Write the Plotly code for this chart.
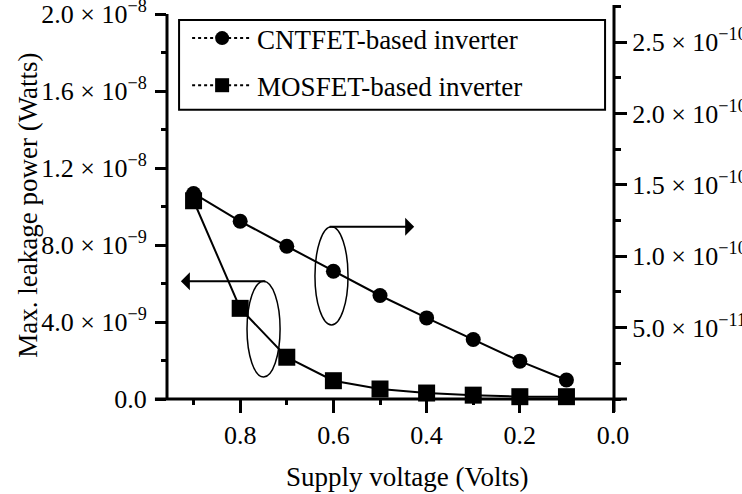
import plotly.graph_objects as go

# ---- data ----
voltage = [0.9, 0.8, 0.7, 0.6, 0.5, 0.4, 0.3, 0.2, 0.1]
cntfet_power = [1.44e-10, 1.245e-10, 1.07e-10, 0.895e-10, 0.725e-10, 0.568e-10, 0.417e-10, 0.265e-10, 0.133e-10]
mosfet_power = [10.3e-9, 4.71e-9, 2.17e-9, 0.95e-9, 0.52e-9, 0.31e-9, 0.2e-9, 0.12e-9, 0.12e-9]

x_ticks = [0.8, 0.6, 0.4, 0.2, 0.0]
x_ticktext = ["0.8", "0.6", "0.4", "0.2", "0.0"]
yl_ticks = [0, 4e-9, 8e-9, 1.2e-8, 1.6e-8, 2.0e-8]
yl_ticktext = ["0.0", "4.0 × 10<sup>−9</sup>", "8.0 × 10<sup>−9</sup>", "1.2 × 10<sup>−8</sup>",
               "1.6 × 10<sup>−8</sup>", "2.0 × 10<sup>−8</sup>"]
yr_ticks = [5e-11, 1.0e-10, 1.5e-10, 2.0e-10, 2.5e-10]
yr_ticktext = ["5.0 × 10<sup>−11</sup>", "1.0 × 10<sup>−10</sup>", "1.5 × 10<sup>−10</sup>",
               "2.0 × 10<sup>−10</sup>", "2.5 × 10<sup>−10</sup>"]

labels = ["CNTFET-based inverter", "MOSFET-based inverter"]

FONT = "Liberation Serif"
BLACK = "black"

fig = go.Figure()

fig.add_trace(go.Scatter(x=voltage, y=cntfet_power, yaxis="y2", mode="lines+markers",
                         line=dict(color=BLACK, width=2), cliponaxis=False,
                         marker=dict(symbol="circle", size=15, color=BLACK),
                         showlegend=False))
fig.add_trace(go.Scatter(x=voltage, y=mosfet_power, yaxis="y", mode="lines+markers",
                         line=dict(color=BLACK, width=2), cliponaxis=False,
                         marker=dict(symbol="square", size=17, color=BLACK),
                         showlegend=False))
# legend entries (dotted style as in the legend)
fig.add_trace(go.Scatter(x=[None], y=[None], mode="lines+markers", name=labels[0], legendgroup="a",
                         line=dict(color=BLACK, width=2, dash="dot"),
                         marker=dict(symbol="circle", size=14, color=BLACK)))
fig.add_trace(go.Scatter(x=[None], y=[None], mode="lines+markers", name=labels[1], legendgroup="b",
                         line=dict(color=BLACK, width=2, dash="dot"),
                         marker=dict(symbol="square", size=14, color=BLACK)))

tickfont = dict(family=FONT, size=26, color=BLACK)

fig.update_layout(
    template="none",
    width=742, height=494,
    margin=dict(l=167, r=128, t=5, b=95),
    paper_bgcolor="white", plot_bgcolor="white",
    font=dict(family=FONT, color=BLACK),
    xaxis=dict(range=[0.957, -0.002], tickvals=x_ticks, ticktext=x_ticktext, automargin=False,
               showgrid=False, zeroline=False, showline=False,
               ticks="outside", ticklen=13, tickwidth=2.5, tickcolor=BLACK,
               minor=dict(tick0=0, dtick=0.1, ticks="outside", ticklen=5, tickwidth=2.5, tickcolor=BLACK),
               tickfont=tickfont),
    yaxis=dict(range=[0, 2.047e-8], tickvals=yl_ticks, ticktext=yl_ticktext, automargin=False,
               showgrid=False, zeroline=False, showline=False,
               ticks="outside", ticklen=11, tickwidth=2.5, tickcolor=BLACK,
               minor=dict(tick0=0, dtick=2e-9, ticks="outside", ticklen=5, tickwidth=2.5, tickcolor=BLACK),
               tickfont=tickfont, ticklabeloverflow="allow", ticklabelstandoff=3),
    yaxis2=dict(range=[0, 2.76e-10], overlaying="y", side="right", automargin=False,
                tickvals=yr_ticks, ticktext=yr_ticktext,
                showgrid=False, zeroline=False, showline=False,
                ticks="outside", ticklen=12, tickwidth=2.5, tickcolor=BLACK,
                minor=dict(tick0=0, dtick=2.5e-11, ticks="outside", ticklen=6, tickwidth=2.5, tickcolor=BLACK),
                tickfont=tickfont, ticklabeloverflow="allow"),
    legend=dict(x=0.045, y=0.977, xanchor="left", yanchor="top",
                font=dict(family=FONT, size=27, color=BLACK),
                bgcolor="rgba(0,0,0,0)", borderwidth=0, itemwidth=60,
                tracegroupgap=9),
    showlegend=True,
)

shapes = [
    # axis lines
    dict(type="line", xref="paper", yref="paper", x0=-0.027, x1=1.029, y0=0, y1=0,
         line=dict(color=BLACK, width=3)),
    dict(type="line", xref="paper", yref="y", x0=0, x1=0, y0=0, y1=2.0e-8,
         line=dict(color=BLACK, width=3)),
    dict(type="line", xref="paper", yref="paper", x0=1, x1=1, y0=-0.033, y1=1,
         line=dict(color=BLACK, width=3)),
    # legend box
    dict(type="rect", xref="paper", yref="paper", x0=0.027, x1=0.980, y0=0.734, y1=0.962,
         line=dict(color=BLACK, width=2)),
    # ellipses
    dict(type="circle", xref="paper", yref="paper", x0=0.331, x1=0.405, y0=0.188, y1=0.437,
         line=dict(color=BLACK, width=1.5)),
    dict(type="circle", xref="paper", yref="paper", x0=0.179, x1=0.253, y0=0.056, y1=0.299,
         line=dict(color=BLACK, width=1.5)),
]
fig.update_layout(shapes=shapes)

annotations = [
    dict(x=0.553, y=0.437, xref="paper", yref="paper", ax=-86, ay=0, text="",
         showarrow=True, arrowhead=1, arrowwidth=2, arrowsize=1.5, arrowcolor=BLACK, standoff=0),
    dict(x=0.031, y=0.299, xref="paper", yref="paper", ax=86, ay=0, text="",
         showarrow=True, arrowhead=1, arrowwidth=2, arrowsize=1.5, arrowcolor=BLACK, standoff=0),
    dict(x=-0.313, y=0.491, xref="paper", yref="paper", text="Max. leakage power (Watts)",
         textangle=-90, showarrow=False, font=dict(family=FONT, size=27, color=BLACK),
         xanchor="center", yanchor="middle"),
    dict(x=0.537, y=-0.198, xref="paper", yref="paper", text="Supply voltage (Volts)",
         showarrow=False, font=dict(family=FONT, size=27, color=BLACK),
         xanchor="center", yanchor="middle"),
]
fig.update_layout(annotations=annotations)

fig.write_html("out.html", config={"displayModeBar": False},
               post_script="document.body.style.margin='0';document.body.style.overflow='hidden';")
